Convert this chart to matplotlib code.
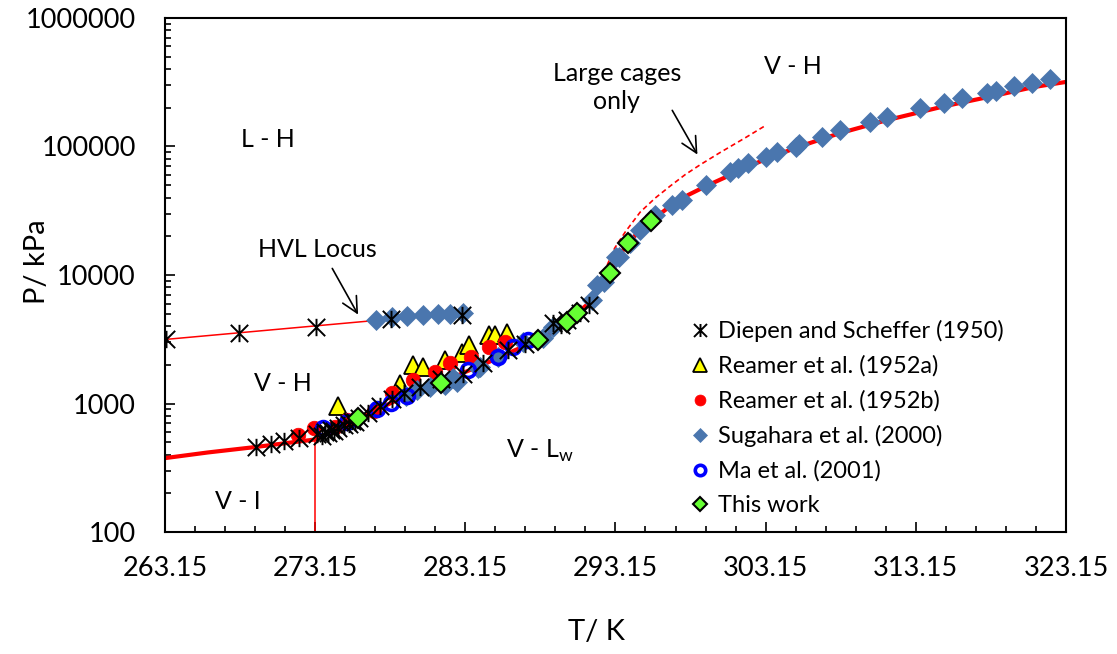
import matplotlib
matplotlib.use('Agg')
import matplotlib.pyplot as plt
from matplotlib.path import Path
from matplotlib.ticker import FixedLocator, FuncFormatter, LogLocator, NullFormatter

plt.rcParams['font.family'] = ['Lato', 'DejaVu Sans']

# Hydrate dissociation model (thick red line)
model_T = [263.15, 266.0, 269.2, 271.1, 273.15, 274.5, 276.0, 277.3, 278.2, 279.5,
           281.5, 283.1, 284.5, 286.3, 288.0, 289.0, 290.0, 290.6, 291.2, 291.8,
           292.3, 292.8, 293.2, 294.0, 294.8, 295.5, 296.9, 298.0, 299.2, 300.8,
           302.0, 303.2, 305.4, 308.1, 311.2, 315.0, 318.5, 321.0, 323.15]
model_P = [376, 416, 459, 490, 525, 620, 760, 900, 1009, 1200,
           1444, 1750, 2050, 2550, 3119, 3600, 4300, 5063, 5800, 7000,
           8700, 10370, 13200, 17740, 22400, 26310, 35060, 42000, 49280, 60000,
           70000, 80000, 100000, 127000, 160000, 205000, 250000, 290000, 318000]

# Large cages only (dashed)
large_T = [292.6, 293.1, 293.8, 294.8, 295.8, 296.8, 297.8, 298.8, 300.1, 301.8, 303.2]
large_P = [11970, 16220, 21620, 30900, 39730, 49280, 60500, 72200, 89500, 117000, 147000]

# HVL locus
hvl_T = [263.15, 276.9]
hvl_P = [3150, 4400]

# Ice point line
ice_T = [273.15, 273.15]
ice_P = [100, 525]

diepen_T = [263.2, 268.1, 273.2, 278.2, 282.9,
            269.2, 270.2, 271.1, 272.1, 273.3, 273.8, 274.2, 274.7, 275.1, 275.6,
            276.1, 276.7, 277.5, 278.3, 279.1, 280.1, 281.5, 283.0, 284.3, 286.0,
            287.1, 289.0, 289.5, 289.9, 290.8, 291.4,
            273.6, 274.0, 274.4, 275.4, 275.8]
diepen_P = [3180, 3540, 3940, 4550, 4890,
            459, 484, 511, 539, 579, 600, 622, 645, 680, 731,
            771, 844, 956, 1085, 1208, 1343, 1553, 1700, 2066, 2607,
            2903, 4200, 4083, 4465, 5063, 5845,
            560, 590, 615, 690, 720]

reamer_a_T = [274.7, 278.8, 279.7, 280.3, 281.8, 282.9, 283.4, 284.7, 285.1, 285.9]
reamer_a_P = [956, 1419, 1994, 1923, 2181, 2472, 2853, 3412, 3412, 3537]

reamer_b_T = [272.0, 273.1, 274.5, 275.3, 277.1, 278.3, 279.7, 281.1, 282.1, 283.5, 284.7, 285.8]
reamer_b_P = [569, 645, 660, 744, 875, 1208, 1524, 1758, 2066, 2301, 2752, 3010]

sugahara_T = [277.2, 278.3, 279.3, 280.3, 281.3, 282.1, 283.0,
              279.2, 279.9, 280.8, 281.8, 282.3, 282.6, 284.0, 284.1, 285.3, 287.0,
              288.3, 289.0, 291.6, 291.9, 292.4, 293.2, 293.4, 294.1, 294.8, 295.8,
              296.9, 297.6, 299.2, 300.8, 301.3, 302.0, 303.2, 303.9, 305.2, 305.4,
              306.9, 308.1, 310.1, 311.2, 313.4, 315.0, 316.2, 317.9, 318.5, 319.7,
              320.9, 322.1]
sugahara_P = [4465, 4712, 4797, 4884, 4930, 5000, 5063,
              1144, 1274, 1343, 1393, 1580, 1469, 1889, 1923, 2301, 3010,
              3233, 3938, 6388, 8357, 8828, 13810, 13810, 17740, 22400, 29290,
              35060, 38370, 50150, 63320, 68080, 74450, 82870, 90630, 99100, 104500,
              118600, 134400, 155200, 169700, 199500, 218100, 238500, 260800, 270200, 295600,
              311800, 335100]

ma_T = [273.7, 275.3, 277.3, 278.2, 279.3, 283.3, 285.3, 286.3, 287.3]
ma_P = [645, 718, 906, 1009, 1144, 1823, 2301, 2752, 3119]

work_T = [276.0, 281.5, 288.0, 289.9, 290.6, 292.8, 294.0, 295.5]
work_P = [771, 1444, 3119, 4300, 5063, 10370, 17740, 26310]

x_ticks = [263.15, 273.15, 283.15, 293.15, 303.15, 313.15, 323.15]
x_minor = [265.15 + 2 * i for i in range(29)]

# six-armed asterisk marker
star = Path([(-1, -1), (1, 1), (-1, 1), (1, -1), (0, -1), (0, 1)],
            [Path.MOVETO, Path.LINETO] * 3)

fig = plt.figure(figsize=(11.17, 6.54), dpi=100)
ax = fig.add_axes([0.1477, 0.1865, 0.8066, 0.786])
ax.set_yscale('log')

ax.plot(model_T, model_P, color='#FF0000', lw=3.0, zorder=2)
ax.plot(large_T, large_P, color='#FF0000', lw=1.2, ls=(0, (3, 2)), zorder=2)
ax.plot(hvl_T, hvl_P, color='#FF0000', lw=1.1, zorder=2)
ax.plot(ice_T, ice_P, color='#FF0000', lw=1.1, zorder=2)

h_ra, = ax.plot(reamer_a_T, reamer_a_P, ls='none', marker='^', ms=13,
                mfc='#FFFF00', mec='black', mew=1.3, zorder=3, label='Reamer et al. (1952a)')
h_rb, = ax.plot(reamer_b_T, reamer_b_P, ls='none', marker='o', ms=10.5,
                mfc='#FF0000', mec='#FF0000', mew=0.5, zorder=4, label='Reamer et al. (1952b)')
h_su, = ax.plot(sugahara_T, sugahara_P, ls='none', marker='D', ms=10,
                mfc='#4A76AE', mec='#4A76AE', mew=0.5, zorder=5, label='Sugahara et al. (2000)')
h_ma, = ax.plot(ma_T, ma_P, ls='none', marker='o', ms=10,
                mfc='none', mec='#0000FF', mew=2.6, zorder=6, label='Ma et al. (2001)')
h_di, = ax.plot(diepen_T, diepen_P, ls='none', marker=star, ms=12.5,
                mfc='none', mec='black', mew=1.4, zorder=7, label='Diepen and Scheffer (1950)')
h_tw, = ax.plot(work_T, work_P, ls='none', marker='D', ms=10,
                mfc='#66FF33', mec='black', mew=1.5, zorder=8, label='This work')

ax.set_xlim(263.15, 323.15)
ax.set_ylim(100, 1e6)
ax.xaxis.set_major_locator(FixedLocator(x_ticks))
ax.xaxis.set_minor_locator(FixedLocator(x_minor))
ax.xaxis.set_major_formatter(FuncFormatter(lambda v, p: f'{v:.2f}'))
ax.yaxis.set_major_locator(LogLocator(base=10))
ax.yaxis.set_minor_locator(LogLocator(base=10, subs=range(2, 10)))
ax.yaxis.set_major_formatter(FuncFormatter(lambda v, p: f'{v:.0f}'))
ax.yaxis.set_minor_formatter(NullFormatter())
ax.tick_params(which='both', direction='in', width=1.2, labelsize=19.5)
ax.tick_params(which='major', length=7)
ax.tick_params(which='minor', length=4)
ax.tick_params(axis='x', pad=17)
ax.tick_params(axis='y', pad=21)
for s in ax.spines.values():
    s.set_linewidth(1.5)

fig.text(37 / 1117, 1 - 262 / 654, 'P/ kPa', rotation=90, ha='center', va='center', fontsize=21)
fig.text(597 / 1117, 1 - 632 / 654, 'T/ K', ha='center', va='center', fontsize=21)

# region labels
lab = dict(ha='center', va='center', fontsize=18)
ax.text(270.0, 112500, 'L - H', **lab)
ax.text(271.0, 1419, 'V - H', **lab)
ax.text(268.0, 174, 'V - I', **lab)
ax.text(288.1, 427, 'V - L$_\\mathregular{w}$', **lab)
ax.text(304.96, 422700, 'V - H', **lab)
ax.text(293.24, 287800, 'Large cages\nonly', linespacing=1.3, **lab)
ax.text(273.27, 15670, 'HVL Locus', **lab)

arrow = dict(arrowstyle='->', color='black', lw=1.2, mutation_scale=28)
ax.annotate('', xy=(276.1, 4712), xytext=(274.2, 11750), arrowprops=arrow)
ax.annotate('', xy=(298.7, 82870), xytext=(296.84, 199500), arrowprops=arrow)

ax.legend(handles=[h_di, h_ra, h_rb, h_su, h_ma, h_tw], loc='upper left',
          bbox_to_anchor=(0.5805, 0.412), frameon=False, fontsize=17,
          markerscale=0.75, handlelength=1.0, handletextpad=0.26,
          labelspacing=0.56, borderpad=0, borderaxespad=0)

fig.savefig('out.png', dpi=100)
